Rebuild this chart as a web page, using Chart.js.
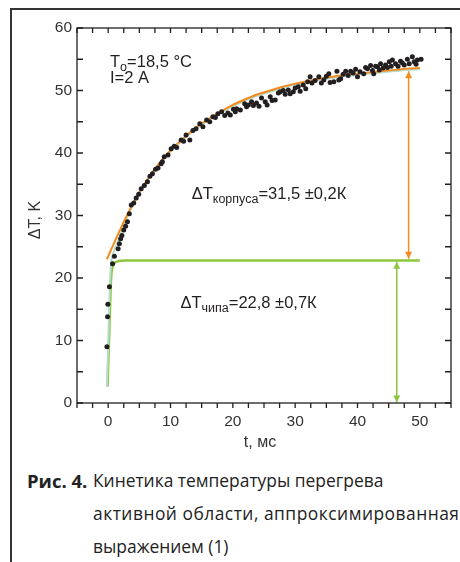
<!DOCTYPE html>
<html>
<head>
<meta charset="utf-8">
<script src="https://cdn.jsdelivr.net/npm/chart.js@4.4.0/dist/chart.umd.min.js"></script>
<style>
  html, body { margin: 0; padding: 0; background: #fff; }
  body { width: 460px; height: 562px; position: relative; overflow: hidden; }
  #frame { position: absolute; left: 10px; top: 8px; width: 460px; height: 560px;
           border-left: 2px solid #333; border-top: 2px solid #333; }
  #chart { position: absolute; left: 0; top: 0; }
  .cap { position: absolute; font-family: "Open Sans", sans-serif; font-size: 17.4px;
         color: #222; line-height: 33px; white-space: nowrap; }
</style>
</head>
<body>
<div id="frame"></div>
<canvas id="chart" width="460" height="460"></canvas>
<div class="cap" style="left:27px; top:464px; font-size:18.5px;"><b>Рис. 4.</b></div>
<div class="cap" style="left:93px; top:464px;">Кинетика температуры перегрева<br><span style="letter-spacing:0.5px">активной области, аппроксимированная</span><br>выражением (1)</div>
<script>
// measured points (t, ms / dT, K)
const dotT = [-0.2, -0.1, -0.05, 0.2, 0.7, 1.0, 1.6, 1.8, 2.0, 2.2, 2.5, 2.8, 3.1, 3.4, 3.7, 4.1, 4.5, 4.9, 5.3, 5.8,
  6.3, 6.7, 7.1, 7.6, 8.0, 8.5, 8.7, 9.0, 9.6, 10.1, 10.6, 11.0, 11.7, 12.1, 12.5, 13.1, 13.6, 14.1, 14.7, 15.2,
  15.8, 16.3, 16.8, 17.2, 17.6, 18.2, 18.7, 19.2, 19.6, 20.1, 20.4, 20.6, 21.2, 21.9, 22.2, 22.5, 23.0, 23.3, 23.8, 24.2,
  24.6, 25.2, 25.5, 26.0, 26.3, 26.8, 27.3, 27.6, 28.1, 28.4, 28.9, 29.2, 29.7, 30.0, 30.5, 30.8, 31.3, 31.7, 32.0, 32.4,
  32.7, 33.2, 33.8, 34.2, 34.6, 35.0, 35.4, 35.6, 36.2, 36.7, 37.0, 37.3, 37.7, 38.1, 38.5, 38.9, 39.3, 39.7, 40.0, 40.4,
  41.0, 41.3, 41.6, 42.1, 42.4, 42.6, 42.9, 43.2, 43.5, 43.7, 44.1, 44.5, 44.8, 45.1, 45.4, 45.6, 46.1, 46.5, 46.9, 47.2,
  47.5, 48.0, 48.3, 48.8, 49.1, 49.4, 49.6, 50.2];
const dotV = [9.0, 13.8, 15.8, 18.6, 22.3, 23.5, 24.7, 25.5, 26.3, 26.8, 27.7, 28.3, 29.0, 30.3, 31.7, 32.0, 32.8, 33.4, 34.3, 34.8,
  35.4, 36.3, 36.7, 37.4, 37.6, 38.3, 38.6, 39.4, 39.7, 40.7, 41.1, 40.9, 42.1, 41.9, 42.9, 42.1, 43.6, 43.9, 44.7, 44.2,
  45.3, 45.0, 45.8, 45.7, 46.3, 46.6, 46.0, 46.4, 46.1, 47.0, 46.6, 47.1, 46.9, 47.9, 47.4, 47.7, 48.2, 47.6, 48.0, 47.5,
  48.8, 48.2, 47.7, 49.0, 48.4, 48.5, 49.6, 49.8, 50.0, 49.4, 50.1, 49.5, 49.8, 50.4, 50.6, 49.9, 50.9, 50.3, 51.4, 52.2,
  51.2, 51.6, 52.2, 51.2, 51.7, 52.3, 52.7, 51.3, 51.4, 53.1, 51.7, 51.9, 52.6, 53.1, 52.4, 53.1, 52.8, 53.4, 52.2, 53.0,
  52.7, 53.7, 53.5, 54.0, 53.2, 52.7, 53.9, 53.8, 53.3, 54.3, 53.6, 54.1, 53.7, 54.6, 53.9, 54.9, 54.3, 53.9, 54.7, 54.4,
  54.1, 55.0, 54.3, 55.4, 54.6, 54.2, 54.9, 55.0];

// case (корпус) fit
const caseT = [-0.2, 0.5, 1, 2, 3, 4, 5, 6, 7, 8, 10, 12, 14, 16, 18, 20, 22, 24, 26, 28, 30, 32, 34, 36, 38, 40, 42, 44, 46, 48, 50];
const caseV = [23.0, 24.6, 25.7, 27.9, 30.0, 31.9, 33.7, 35.3, 36.8, 38.1, 40.4, 42.3, 44.0, 45.4, 46.6, 47.7, 48.6, 49.4, 50.0, 50.6,
  51.1, 51.5, 51.9, 52.2, 52.5, 52.7, 52.9, 53.1, 53.3, 53.5, 53.6];

// total fit
const totalT = [-0.2, 0.0, 0.15, 0.3, 0.45, 0.7, 1.0, 1.5, 2.0, 3, 4, 5, 6, 7, 8, 10, 12, 14, 16, 18, 20, 22, 24, 26, 28, 30,
  32, 34, 36, 38, 40, 42, 44, 46, 48, 50];
const totalV = [2.6, 9.0, 15.0, 19.5, 22.2, 23.6, 24.5, 25.7, 26.9, 29.6, 31.8, 33.6, 35.2, 36.7, 38.0, 40.2, 42.1, 43.8, 45.2, 46.4,
  47.5, 48.4, 49.2, 49.8, 50.4, 50.9, 51.3, 51.7, 52.0, 52.3, 52.5, 52.7, 52.9, 53.1, 53.3, 53.4];

// chip fit
const chipT = [-0.1, 0.2, 0.45, 0.6, 0.8, 1.1, 1.5, 2.0, 2.8, 50];
const chipV = [2.6, 12.0, 19.5, 21.3, 22.0, 22.45, 22.65, 22.75, 22.8, 22.8];

// dimension arrows
const caseArrowT = [48.2, 48.2];
const caseArrowV = [53.1, 23.1];
const chipArrowT = [46.3, 46.3];
const chipArrowV = [22.6, 0.1];

const xTicks = [0, 10, 20, 30, 40, 50];
const yTicks = [0, 10, 20, 30, 40, 50, 60];

const pts = (xs, ys) => xs.map((x, i) => ({ x: x, y: ys[i] }));

const INK = '#231f20';
const ORANGE = '#f58a1f';
const GREEN = '#8dc63f';
const TEAL = '#b3ddd0';
const FONT = '"Liberation Sans", Arial, sans-serif';

const framePlugin = {
  id: 'frame',
  afterDraw(chart) {
    const { ctx, chartArea: a, scales } = chart;
    ctx.save();
    ctx.strokeStyle = INK;
    ctx.lineWidth = 1.3;
    ctx.strokeRect(a.left, a.top, a.right - a.left, a.bottom - a.top);
    ctx.beginPath();
    scales.x.ticks.forEach(t => {
      const px = scales.x.getPixelForValue(t.value);
      ctx.moveTo(px, a.bottom); ctx.lineTo(px, a.bottom + 5);
      ctx.moveTo(px, a.top); ctx.lineTo(px, a.top + 5);
    });
    scales.y.ticks.forEach(t => {
      const py = scales.y.getPixelForValue(t.value);
      ctx.moveTo(a.left, py); ctx.lineTo(a.left + 6, py);
      ctx.moveTo(a.right, py); ctx.lineTo(a.right - 6, py);
    });
    ctx.stroke();

    // arrow heads at both ends of arrow datasets
    chart.data.datasets.forEach((ds, i) => {
      if (!ds.arrow) return;
      const m = chart.getDatasetMeta(i).data;
      const p0 = m[0], p1 = m[m.length - 1];
      const dir = Math.sign(p1.y - p0.y);
      ctx.fillStyle = ds.borderColor;
      [[p0, -dir], [p1, dir]].forEach(([p, d]) => {
        ctx.beginPath();
        ctx.moveTo(p.x, p.y);
        ctx.lineTo(p.x - 3.5, p.y - d * 7);
        ctx.lineTo(p.x + 3.5, p.y - d * 7);
        ctx.closePath();
        ctx.fill();
      });
    });

    // texts
    const xs = scales.x, ys = scales.y;
    ctx.fillStyle = INK;
    ctx.textBaseline = 'alphabetic';
    const sub = (x, y, parts) => {
      parts.forEach(([txt, size, dy]) => {
        ctx.font = size + 'px ' + FONT;
        ctx.fillText(txt, x, y + dy);
        x += ctx.measureText(txt).width;
      });
    };
    sub(xs.getPixelForValue(0.3), ys.getPixelForValue(53.8), [['T', 16.5, 0], ['o', 12.5, 4], ['=18,5 °C', 16.5, 0]]);
    sub(xs.getPixelForValue(0.3), ys.getPixelForValue(51.2), [['I=2 A', 16.5, 0]]);
    sub(xs.getPixelForValue(13.4), ys.getPixelForValue(32.6), [['\u0394T', 16.5, 0], ['корпуса', 12.5, 4], ['=31,5 \u00b10,2К', 16.5, 0]]);
    sub(xs.getPixelForValue(11.6), ys.getPixelForValue(15.2), [['\u0394T', 16.5, 0], ['чипа', 12.5, 4], ['=22,8 \u00b10,7К', 16.5, 0]]);

    ctx.fillStyle = '#333';
    ctx.font = '16px ' + FONT;
    ctx.textAlign = 'center';
    ctx.fillText('t, мс', 260, 447);
    ctx.translate(40, 220);
    ctx.rotate(-Math.PI / 2);
    ctx.fillText('\u0394T, K', 0, 0);
    ctx.restore();
  }
};

new Chart(document.getElementById('chart'), {
  type: 'scatter',
  data: {
    datasets: [
      { data: pts(dotT, dotV), backgroundColor: INK, borderWidth: 0, pointRadius: 2.5, order: 0 },
      { data: pts(caseT, caseV), showLine: true, borderColor: ORANGE, borderWidth: 2, pointRadius: 0,
        cubicInterpolationMode: 'monotone', order: 1 },
      { data: pts(totalT, totalV), showLine: true, borderColor: TEAL, borderWidth: 2, pointRadius: 0,
        cubicInterpolationMode: 'monotone', order: 2 },
      { data: pts(chipT, chipV), showLine: true, borderColor: GREEN, borderWidth: 2.5, pointRadius: 0,
        cubicInterpolationMode: 'monotone', order: 3 },
      { data: pts(caseArrowT, caseArrowV), showLine: true, borderColor: ORANGE, borderWidth: 1.5, pointRadius: 0, arrow: true, order: 4 },
      { data: pts(chipArrowT, chipArrowV), showLine: true, borderColor: GREEN, borderWidth: 1.5, pointRadius: 0, arrow: true, order: 4 }
    ]
  },
  options: {
    responsive: false,
    animation: false,
    layout: { padding: { left: 0, top: 28, right: 7, bottom: 0 } },
    plugins: { legend: { display: false }, tooltip: { enabled: false } },
    scales: {
      x: {
        type: 'linear', min: -5, max: 55,
        grid: { display: false, drawTicks: false }, border: { display: false },
        ticks: {
          stepSize: 2.5, autoSkip: false, maxRotation: 0, padding: 9, color: '#333',
          font: { family: FONT, size: 15.5 },
          callback: v => xTicks.includes(v) ? String(v) : ''
        },
        afterFit: s => { s.height = 57; }
      },
      y: {
        min: 0, max: 60,
        grid: { display: false, drawTicks: false }, border: { display: false },
        ticks: {
          stepSize: 5, autoSkip: false, padding: 5, color: '#333',
          font: { family: FONT, size: 15.5 },
          callback: v => yTicks.includes(v) ? String(v) : ''
        },
        afterFit: s => { s.width = 77; }
      }
    }
  },
  plugins: [framePlugin]
});
</script>
</body>
</html>
